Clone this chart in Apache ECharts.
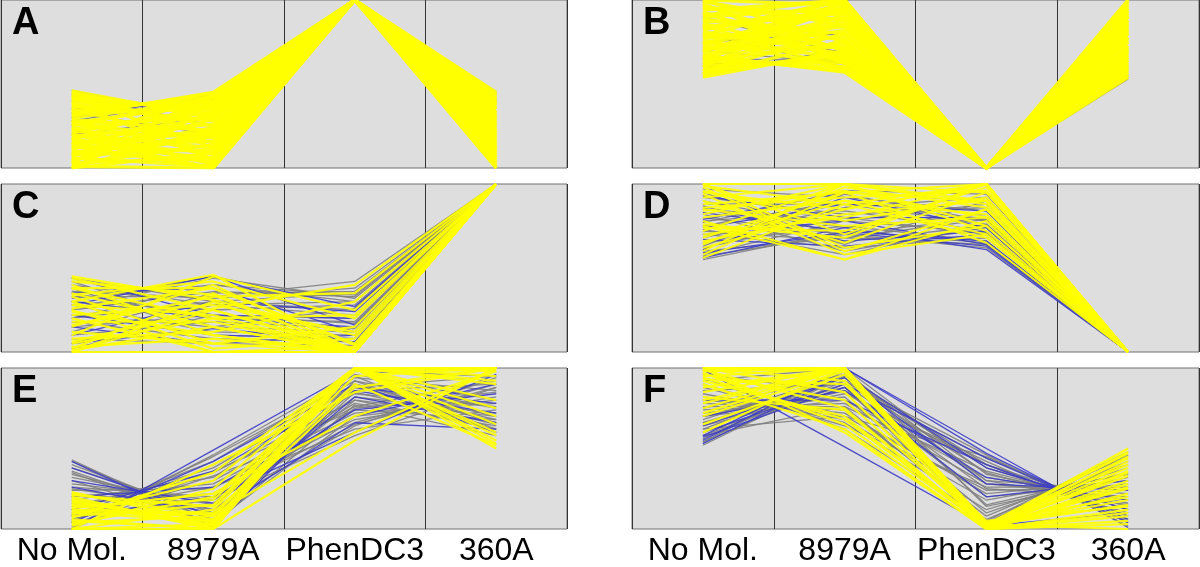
<!DOCTYPE html>
<html>
<head>
<meta charset="utf-8">
<script src="https://cdn.jsdelivr.net/npm/echarts@6/dist/echarts.min.js"></script>
<style>
  html, body { margin: 0; padding: 0; background: #fff; }
  #chart { width: 1200px; height: 567px; }
</style>
</head>
<body>
<div id="chart"></div>
<script>
// axis categories (shared by all six panels)
const categories = ["No Mol.", "8979A", "PhenDC3", "360A"];

// each row = one profile: [No Mol., 8979A, PhenDC3, 360A], scaled 0..100
// panel A
const aYellow = [
  [46,30,100,44],[44,32,100,40],[42,34,100,42],[40,36,100,38],[38,38,100,35],[36,40,100,45],[34,42,100,30],[32,44,100,41],[31,45,100,28],
  [45,20,100,36],[43,12,100,33],[41,25,100,39],[39,5,100,25],[37,28,100,43],[35,15,100,22],[33,35,100,37],[30,40,100,18],[29,22,100,31],
  [28,8,100,44],[27,38,100,12],[26,30,100,27],[25,42,100,20],[24,2,100,35],[23,33,100,8],[22,18,100,40],[21,36,100,15],[20,12,100,29],
  [19,26,100,3],[18,0,100,24],[17,43,100,10],[16,9,100,33],[15,21,100,0],[14,31,100,17],[13,0,100,26],[12,16,100,6],[11,37,100,21],
  [10,4,100,38],[9,24,100,13],[8,11,100,2],[7,29,100,32],[6,1,100,19],[5,19,100,9],[4,33,100,14],[3,6,100,1],[2,14,100,23],
  [1,0,100,5],[0,23,100,11],[0,9,100,0],[0,40,100,16],[3,44,100,7],[26,18,100,4],[14,6,100,30],[8,20,100,42],[20,3,100,12]
];
const aGray = [[46,30,100,45],[40,35,100,44],[35,38,100,43],[28,41,100,40],[20,30,100,42],[44,25,100,41],[33,20,100,39]];
const aBlue = [[30,44,100,45],[25,43,100,44]];

// panel B
const bYellow = [
  [54,70,0,60],[56,69,0,72],[58,67,0,55],[60,65,0,88],[62,63,0,66],[64,60,0,95],[66,58,0,58],[67,57,0,80],
  [100,75,0,100],[98,62,0,90],[96,88,0,70],[94,100,0,85],[92,70,0,62],[90,95,0,98],[88,80,0,75],[86,66,0,92],
  [84,92,0,64],[82,100,0,83],[80,72,0,57],[78,85,0,96],[76,60,0,78],[74,98,0,68],[72,78,0,88],[70,90,0,54],
  [68,82,0,73],[66,96,0,93],[64,74,0,61],[62,86,0,86],[60,100,0,70],[58,80,0,99],[56,92,0,77],[55,76,0,65],
  [100,97,0,80],[99,85,0,67],[97,70,0,94],[95,92,0,56],[93,64,0,82],[91,100,0,71],[89,76,0,90],[87,89,0,60],
  [85,58,0,76],[83,94,0,97],[81,68,0,84],[79,100,0,63],[77,84,0,91],[75,66,0,69],[73,94,0,81],[71,72,0,100],
  [69,99,0,59],[65,88,0,87]
];
const bGray = [[55,71,0,53],[60,66,0,55],[70,62,0,54],[80,60,0,56],[65,64,0,57],[90,68,0,58],[75,80,0,60]];
const bBlue = [[62,64,0,54]];

// panel C
const cYellow = [
  [45,31,10,100],[42,34,0,100],[38,38,5,100],[34,42,20,100],[30,46,0,100],[0,30,0,100],[0,25,2,100],[2,35,0,100],
  [5,20,0,100],[25,0,0,100],[30,2,8,100],[20,0,3,100],[40,10,0,100],[35,15,0,100],[10,45,25,100],[15,40,0,100],
  [28,22,0,100],[8,12,30,100],[12,5,0,100],[22,28,12,100],[18,18,0,100],[44,25,0,100],[26,38,4,100],[3,8,0,100],
  [0,0,0,100],[33,5,15,100],[6,26,40,100],[16,33,35,100],[24,10,0,100],[38,20,22,100],[1,15,0,100]
];
const cGray = [
  [44,30,35,100],[40,28,30,100],[36,32,38,100],[30,25,28,100],[25,36,33,100],[20,30,25,100],[15,22,20,100],[10,18,14,100],
  [35,20,18,100],[42,15,12,100],[28,12,10,100],[18,8,6,100],[8,5,4,100],[5,28,22,100],[32,40,30,100],[12,35,36,100],
  [38,10,8,100],[22,15,26,100],[2,22,17,100],[26,44,32,100],[33,33,42,100],[20,40,34,100]
];
const cBlue = [[28,45,27,100],[30,45,16,100],[30,20,15,100],[22,10,8,100],[10,30,24,100],[44,22,20,100],[15,5,10,100],[35,38,12,100],[5,14,6,100]];

// panel D
const dYellow = [
  [100,70,100,0],[100,100,90,0],[98,60,85,0],[95,85,100,0],[92,100,75,0],[90,65,95,0],[88,95,100,0],[85,75,80,0],
  [82,100,88,0],[80,90,70,0],[78,55,78,0],[75,55,85,0],[72,100,95,0],[70,80,100,0],[68,95,65,0],[65,90,82,0],
  [62,85,100,0],[60,100,72,0],[58,95,90,0],[56,88,68,0],[100,62,75,0],[96,78,92,0],[86,92,96,0],[76,68,100,0],
  [66,82,90,0],[94,58,70,0],[84,96,80,0],[74,72,98,0],[64,98,86,0],[99,88,100,0]
];
const dGray = [
  [55,72,65,0],[57,70,62,0],[60,68,64,0],[62,80,70,0],[65,75,66,0],[70,62,68,0],[72,66,75,0],[75,90,78,0],
  [78,84,72,0],[80,70,80,0],[82,60,74,0],[85,78,88,0],[88,88,76,0],[90,74,82,0],[92,82,86,0],[95,68,79,0],
  [97,92,84,0],[68,86,92,0],[63,94,78,0],[58,78,71,0],[86,64,90,0],[77,96,94,0],[73,58,76,0]
];
const dBlue = [[56,74,61,0],[59,71,63,0],[67,63,70,0],[74,88,84,0],[83,72,66,0],[93,80,80,0],[61,92,74,0],[87,66,72,0],[79,95,90,0],[70,78,64,0]];

// panel E
const eYellow = [
  [20,0,100,50],[15,2,100,55],[10,5,100,100],[5,0,100,98],[0,3,100,60],[22,8,95,100],[18,0,100,100],[12,10,90,52],
  [8,15,100,95],[3,20,98,100],[0,12,100,70],[23,4,100,65],[16,6,88,100],[6,0,100,58],[14,18,100,100],[2,25,100,92],
  [19,1,100,80],[0,0,55,100],[11,9,60,100],[21,14,100,100],[9,30,100,75],[4,8,100,53],[13,22,70,98],[7,35,100,100],
  [0,40,85,100],[17,3,100,90]
];
const eGray = [
  [43,2,90,70],[42,5,85,65],[40,8,92,75],[38,10,80,62],[36,6,88,68],[34,12,75,85],[32,15,95,60],[30,4,70,80],
  [28,18,82,72],[26,20,65,88],[24,25,78,64],[22,14,86,90],[20,28,72,78],[18,32,90,66],[16,22,68,82],[14,35,80,70],
  [12,38,88,95],[10,26,62,74],[8,42,94,86],[6,30,76,92],[4,45,92,62],[2,40,84,76],[0,36,74,68],[1,46,96,80],
  [5,33,66,90],[9,18,58,88],[25,12,64,94],[35,3,77,58]
];
const eBlue = [[0,49,98,95],[38,8,82,66],[30,16,74,84],[12,36,86,72],[4,42,90,60],[20,26,70,90],[42,1,88,78],[26,10,66,62],[8,20,60,96]];

// panel F
const fYellow = [
  [100,100,2,50],[100,98,0,45],[98,100,3,40],[100,60,0,35],[97,65,2,48],[95,100,0,30],[92,70,1,25],[80,100,0,42],
  [75,100,4,20],[70,98,2,15],[100,100,0,10],[99,75,0,5],[85,100,1,38],[94,68,3,0],[72,100,0,28],[65,96,2,44],
  [88,100,0,12],[100,85,1,33],[90,62,0,22],[78,100,3,47],[100,92,0,8],[96,80,2,18],[82,74,0,36],[60,100,1,26],
  [98,100,0,3],[93,90,5,14]
];
const fGray = [
  [52,95,40,5],[54,92,35,10],[56,98,30,15],[58,90,44,8],[60,88,25,20],[62,94,38,12],[64,86,20,28],[66,84,42,4],
  [68,96,15,35],[70,80,32,18],[72,82,10,40],[74,78,28,22],[76,76,36,14],[78,74,8,45],[80,72,22,30],[82,70,45,6],
  [84,68,18,34],[86,90,30,24],[88,66,12,38],[90,64,26,26],[92,100,34,16],[94,62,6,42],[96,85,40,12],[54,100,14,32],
  [58,76,5,48],[62,70,24,26],[66,92,46,2],[70,88,4,46],[75,96,28,20]
];
const fBlue = [[99,51,2,10],[55,100,50,1],[58,100,47,4],[53,96,38,12],[60,90,44,6],[70,86,32,18],[80,80,40,8],[64,94,28,24],[57,88,20,30]];

const panelLetters = ["A", "B", "C", "D", "E", "F"];
const panelData = [
  [aYellow, aGray, aBlue], [bYellow, bGray, bBlue],
  [cYellow, cGray, cBlue], [dYellow, dGray, dBlue],
  [eYellow, eGray, eBlue], [fYellow, fGray, fBlue]
];

// layout
const colLeft = [1, 632];
const colWidth = [566, 567];
const rowTop = [0, 184, 368];
const panelH = 168;
// yellow stroke per panel (A and B are almost solid yellow)
const yellowWidth = [3.2, 3.2, 2.2, 2, 2.2, 2.2];

const YELLOW = "#ffff00", GRAY = "#808080", BLUE = "#3c3cc8";

let grid = [], xAxis = [], yAxis = [], series = [], graphic = [];

panelLetters.forEach((letter, i) => {
  const col = i % 2, row = Math.floor(i / 2);
  grid.push({
    left: colLeft[col], top: rowTop[row], width: colWidth[col], height: panelH,
    show: true, backgroundColor: "#dedede", borderColor: "#707070", borderWidth: 1
  });
  xAxis.push({
    gridIndex: i, type: "category", data: categories, boundaryGap: true,
    axisLine: { show: false }, axisTick: { show: false },
    splitLine: { show: true, interval: 0, lineStyle: { color: "#333", width: 1 } },
    axisLabel: {
      show: row === 2, interval: 0, color: "#000", fontSize: 32,
      fontFamily: "Liberation Sans", margin: 6
    }
  });
  yAxis.push({
    gridIndex: i, type: "value", min: 0, max: 100, show: false, splitLine: { show: false }
  });

  const [yel, gry, blu] = panelData[i];
  const add = (rows, color, width, opacity) => {
    rows.forEach(r => {
      series.push({
        type: "line", xAxisIndex: i, yAxisIndex: i, data: r,
        symbol: "none", silent: true, animation: false,
        lineStyle: { color: color, width: width, opacity: opacity }
      });
    });
  };
  add(gry, GRAY, 1.3, 0.9);
  add(blu, BLUE, 1.3, 0.9);
  add(yel, YELLOW, yellowWidth[i], 0.92);

  graphic.push({
    type: "text", left: colLeft[col] + 11, top: rowTop[row] + 5, z: 100,
    style: { text: letter, font: "bold 38px 'Liberation Sans'", fill: "#000" }
  });
});

const chart = echarts.init(document.getElementById("chart"));
chart.setOption({
  animation: false,
  grid: grid,
  xAxis: xAxis,
  yAxis: yAxis,
  series: series,
  graphic: graphic
});
</script>
</body>
</html>
